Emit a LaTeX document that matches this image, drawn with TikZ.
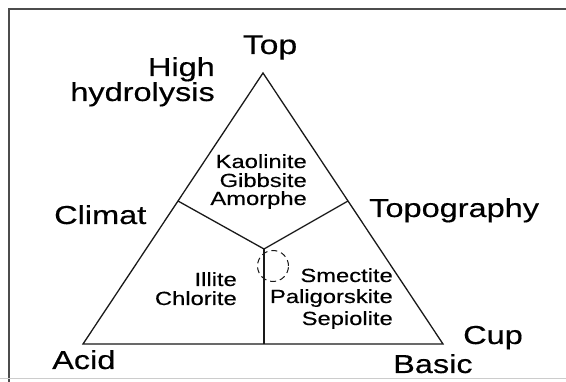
\documentclass[tikz,border=0pt]{standalone}
\usepackage{fontspec}
\setmainfont{Liberation Sans}[FakeStretch=1.25, FakeBold=0.4]
\begin{document}
\begin{tikzpicture}[x=1pt,y=-1pt,
  big/.style={font=\fontsize{26}{30}\selectfont, inner sep=0pt, text=black},
  small/.style={font=\fontsize{19}{21}\selectfont, inner sep=0pt, text=black, align=right},
  tri/.style={line width=1.3pt, line join=miter, draw=black!90},
  frame/.style={line width=1.4pt, draw=black!70}]
\useasboundingbox (0,0) rectangle (566,382);
% frame
\coordinate (fbl) at (9,390);
\coordinate (ftl) at (9,9);
\coordinate (ftr) at (575,9);
\draw[frame] (fbl) -- (ftl) -- (ftr);
\coordinate (bl0) at (0,379);
\coordinate (br0) at (566,379);
\draw[black!20, line width=1pt] (bl0) -- (br0);
% triangle
\coordinate (A) at (263,73);
\coordinate (L) at (83,344);
\coordinate (R) at (443,344);
\coordinate (P) at (178,201);
\coordinate (Q) at (348,201);
\coordinate (J) at (264,249);
\coordinate (B) at (264,344);
\draw[tri] (A) -- (L) -- (R) -- cycle;
\draw[tri] (P) -- (J) -- (Q);
\draw[tri] (J) -- (B);
\node[draw=black!90, circle, minimum size=31pt, inner sep=0pt, dashed, dash pattern=on 6pt off 4pt, line width=1pt] (circ) at (273,266) {};
% big labels
\node[big, anchor=base] (top) at (270,54) {\fontsize{27}{30}\selectfont Top};
\node[big, anchor=base east] (high) at (215,76) {High};
\node[big, anchor=base east] (hyd) at (215,101) {hydrolysis};
\node[big, anchor=base west] (clim) at (54,224) {Climat};
\node[big, anchor=base west] (topo) at (369,217) {Topography};
\node[big, anchor=base west] (cup) at (463,344) {Cup};
\node[big, anchor=base west] (acid) at (52,369) {Acid};
\node[big, anchor=base west] (basic) at (393,373) {Basic};
% small labels
\node[small, anchor=base east] (k1) at (307,168) {Kaolinite};
\node[small, anchor=base east] (k2) at (307,187) {Gibbsite};
\node[small, anchor=base east] (k3) at (307,205) {Amorphe};
\node[small, anchor=base east] (i1) at (237,286) {Illite};
\node[small, anchor=base east] (i2) at (237,305) {Chlorite};
\node[small, anchor=base east] (s1) at (393,282) {Smectite};
\node[small, anchor=base east] (s2) at (393,303) {Paligorskite};
\node[small, anchor=base east] (s3) at (393,325) {Sepiolite};
\end{tikzpicture}
\end{document}
